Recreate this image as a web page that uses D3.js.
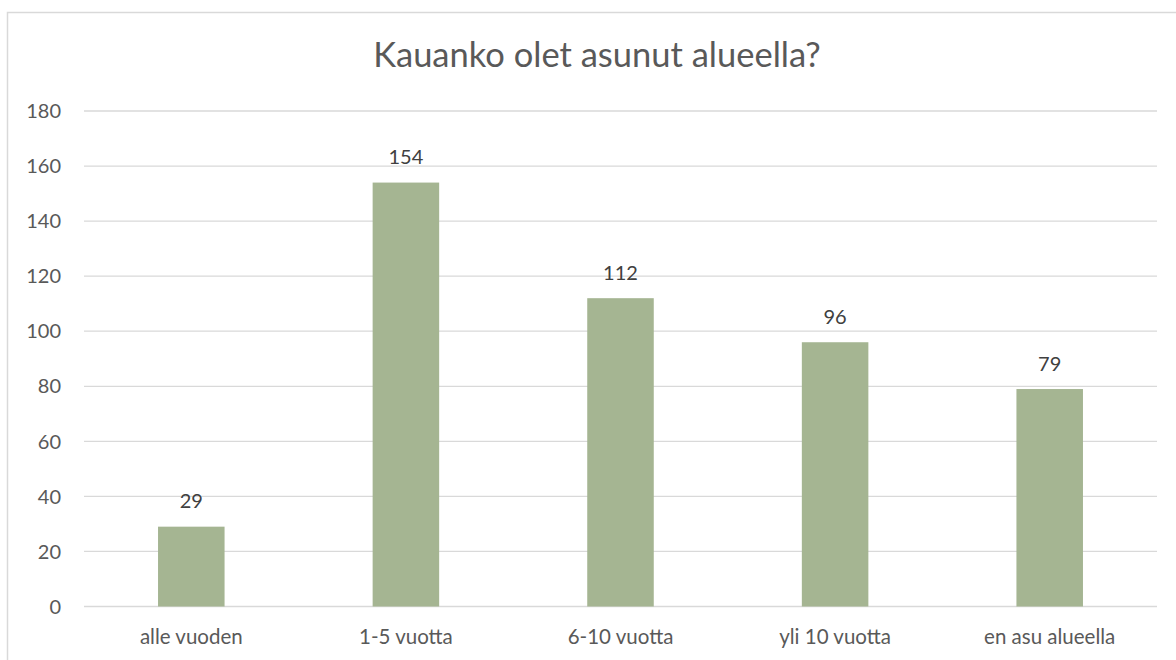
<!DOCTYPE html>
<html>
<head>
<meta charset="utf-8">
<script src="https://cdn.jsdelivr.net/npm/d3@7"></script>
<style>
  body { margin: 0; background: #fff; }
  svg text { font-family: Lato, "Open Sans", sans-serif; fill: #595959; }
</style>
</head>
<body>
<div id="chart"></div>
<script>
// data
const categories = ["alle vuoden", "1-5 vuotta", "6-10 vuotta", "yli 10 vuotta", "en asu alueella"];
const values = [29, 154, 112, 96, 79];
const yTicks = [0, 20, 40, 60, 80, 100, 120, 140, 160, 180];
const title = "Kauanko olet asunut alueella?";

const width = 1176, height = 660;
const plotLeft = 84, plotRight = 1157, plotTop = 111, plotBottom = 606.5;

const svg = d3.select("#chart").append("svg")
    .attr("width", width)
    .attr("height", height);

// outer border
svg.append("rect")
    .attr("x", 7.5).attr("y", 12.5)
    .attr("width", 1200).attr("height", 700)
    .attr("fill", "none")
    .attr("stroke", "#d9d9d9")
    .attr("stroke-width", 1.5);

const x = d3.scaleBand()
    .domain(categories)
    .range([plotLeft, plotRight])
    .paddingInner(0.69)
    .paddingOuter(0.345);

const y = d3.scaleLinear()
    .domain([0, 180])
    .range([plotBottom, plotTop]);

// gridlines
svg.append("g").selectAll("line")
    .data(yTicks)
    .join("line")
    .attr("x1", plotLeft).attr("x2", plotRight)
    .attr("y1", d => y(d)).attr("y2", d => y(d))
    .attr("stroke", "#d9d9d9")
    .attr("stroke-width", 1.3);

// y tick labels
svg.append("g").selectAll("text")
    .data(yTicks)
    .join("text")
    .attr("x", 61)
    .attr("y", d => y(d))
    .attr("dy", "0.36em")
    .attr("text-anchor", "end")
    .style("font-size", "20px")
    .text(d => d);

// bars
svg.append("g").selectAll("rect")
    .data(values)
    .join("rect")
    .attr("x", (d, i) => x(categories[i]))
    .attr("width", x.bandwidth())
    .attr("y", d => y(d))
    .attr("height", d => y(0) - y(d))
    .attr("fill", "#a5b592");

// value labels
svg.append("g").selectAll("text")
    .data(values)
    .join("text")
    .attr("x", (d, i) => x(categories[i]) + x.bandwidth() / 2)
    .attr("y", d => y(d) - 18.5)
    .attr("text-anchor", "middle")
    .style("font-size", "20px")
    .style("fill", "#404040")
    .text(d => d);

// category labels
svg.append("g").selectAll("text")
    .data(categories)
    .join("text")
    .attr("x", d => x(d) + x.bandwidth() / 2)
    .attr("y", 643.5)
    .attr("text-anchor", "middle")
    .style("font-size", "20.5px")
    .text(d => d);

// title
svg.append("text")
    .attr("x", 597)
    .attr("y", 66.5)
    .attr("text-anchor", "middle")
    .style("font-size", "34.5px")
    .text(title);
</script>
</body>
</html>
